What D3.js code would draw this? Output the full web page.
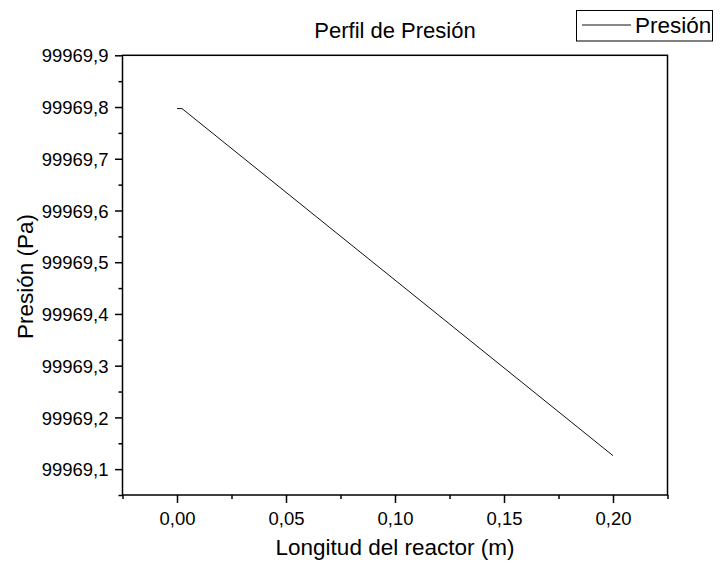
<!DOCTYPE html>
<html>
<head>
<meta charset="utf-8">
<script src="https://cdn.jsdelivr.net/npm/d3@7"></script>
<style>
  html, body { margin: 0; padding: 0; background: #fff; }
  svg { display: block; font-family: "Liberation Sans", Arial, sans-serif; }
</style>
</head>
<body>
<svg id="chart" width="720" height="565"></svg>
<script>
// Pressure profile along the reactor length
const lengthM = [0, 0.0023, 0.1, 0.2];
const pressurePa = [99969.797, 99969.797, 99969.4655, 99969.126];
const seriesName = "Presión";

const xTicks = [0, 0.05, 0.1, 0.15, 0.2];
const xMinorTicks = [-0.025, 0.025, 0.075, 0.125, 0.175, 0.225];
const yTicks = [99969.1, 99969.2, 99969.3, 99969.4, 99969.5, 99969.6, 99969.7, 99969.8, 99969.9];
const yMinorTicks = [99969.05, 99969.15, 99969.25, 99969.35, 99969.45, 99969.55, 99969.65, 99969.75, 99969.85];

const plot = { left: 122.5, right: 667.5, top: 55.3, bottom: 495 };

const svg = d3.select("#chart");

const x = d3.scaleLinear().domain([-0.025, 0.225]).range([plot.left, plot.right]);
const y = d3.scaleLinear().domain([99969.05, 99969.9]).range([plot.bottom, plot.top]);

const comma = s => s.replace(".", ",");
const fmtX = v => comma(d3.format(".2f")(v));
const fmtY = v => comma(d3.format(".1f")(v));

// Minor ticks
svg.append("g")
  .attr("transform", `translate(0,${plot.bottom})`)
  .call(d3.axisBottom(x).tickValues(xMinorTicks).tickSize(4).tickSizeOuter(0).tickFormat(""))
  .call(g => g.select(".domain").remove())
  .call(g => g.selectAll("line").attr("stroke", "#000").attr("stroke-width", 1.5));

svg.append("g")
  .attr("transform", `translate(${plot.left},0)`)
  .call(d3.axisLeft(y).tickValues(yMinorTicks).tickSize(4).tickSizeOuter(0).tickFormat(""))
  .call(g => g.select(".domain").remove())
  .call(g => g.selectAll("line").attr("stroke", "#000").attr("stroke-width", 1.5));

// Major ticks with labels
svg.append("g")
  .attr("transform", `translate(0,${plot.bottom})`)
  .call(d3.axisBottom(x).tickValues(xTicks).tickSize(8).tickSizeOuter(0).tickPadding(8).tickFormat(fmtX))
  .call(g => g.select(".domain").remove())
  .call(g => g.selectAll("line").attr("stroke", "#000").attr("stroke-width", 1.5))
  .call(g => g.selectAll("text")
    .attr("font-family", "Liberation Sans, Arial, sans-serif")
    .attr("font-size", 18.5).attr("fill", "#000")
    .attr("dy", null).attr("y", 30));

svg.append("g")
  .attr("transform", `translate(${plot.left},0)`)
  .call(d3.axisLeft(y).tickValues(yTicks).tickSize(7.5).tickSizeOuter(0).tickPadding(6).tickFormat(fmtY))
  .call(g => g.select(".domain").remove())
  .call(g => g.selectAll("line").attr("stroke", "#000").attr("stroke-width", 1.5))
  .call(g => g.selectAll("text")
    .attr("font-family", "Liberation Sans, Arial, sans-serif")
    .attr("font-size", 18.5).attr("fill", "#000")
    .attr("x", -14).attr("dy", "0.36em"));

// Frame
svg.append("rect")
  .attr("x", plot.left).attr("y", plot.top)
  .attr("width", plot.right - plot.left).attr("height", plot.bottom - plot.top)
  .attr("fill", "none").attr("stroke", "#000").attr("stroke-width", 1.5);

// Data line
const pts = lengthM.map((d, i) => [d, pressurePa[i]]);
svg.append("path")
  .datum(pts)
  .attr("fill", "none").attr("stroke", "#111").attr("stroke-width", 1)
  .attr("d", d3.line().x(d => x(d[0])).y(d => y(d[1])));

// Title
svg.append("text")
  .attr("x", (plot.left + plot.right) / 2).attr("y", 37.5)
  .attr("text-anchor", "middle").attr("font-size", 22).attr("fill", "#000")
  .text("Perfil de Presión");

// Axis titles
svg.append("text")
  .attr("x", (plot.left + plot.right) / 2).attr("y", 555)
  .attr("text-anchor", "middle").attr("font-size", 22.5).attr("fill", "#000")
  .text("Longitud del reactor (m)");

svg.append("text")
  .attr("transform", `translate(33,276.5) rotate(-90)`)
  .attr("text-anchor", "middle").attr("font-size", 22.5).attr("fill", "#000")
  .text("Presión (Pa)");

// Legend
const legend = svg.append("g");
legend.append("rect")
  .attr("x", 576.5).attr("y", 10.5).attr("width", 136).attr("height", 30.5)
  .attr("fill", "#fff").attr("stroke", "#000").attr("stroke-width", 1);
legend.append("line")
  .attr("x1", 582).attr("x2", 631).attr("y1", 25).attr("y2", 25)
  .attr("stroke", "#111").attr("stroke-width", 1);
legend.append("text")
  .attr("x", 635).attr("y", 33.3).attr("font-size", 22.5).attr("fill", "#000")
  .text(seriesName);
</script>
</body>
</html>
